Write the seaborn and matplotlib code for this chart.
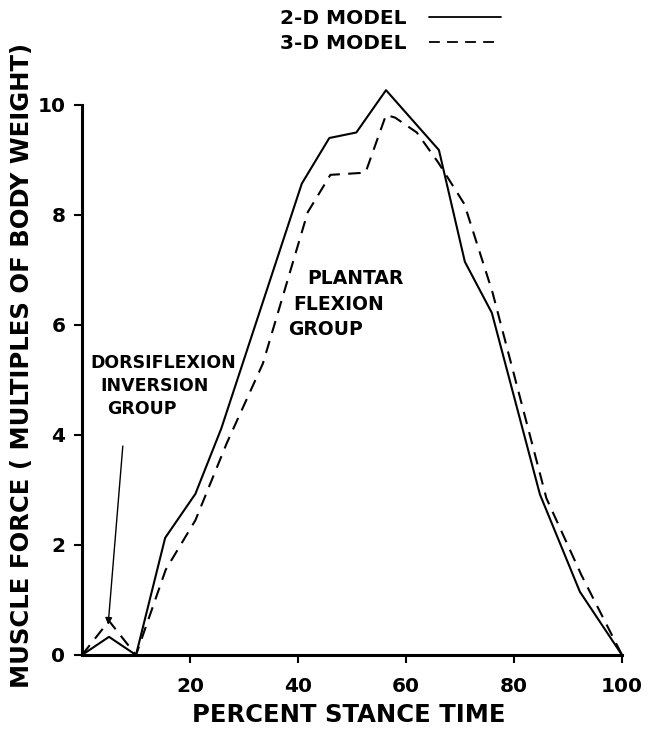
import numpy as np
import pandas as pd
import matplotlib
matplotlib.use("Agg")
import matplotlib.pyplot as plt
import seaborn as sns
from matplotlib.lines import Line2D

# ---- data ----
x_2d = [0, 5, 10, 15.4, 21, 25.8, 40.7, 45.8, 50.8, 56.3, 66.1, 70.9, 75.9, 84.8, 92.2, 100]
y_2d = [0, 0.33, 0, 2.13, 2.93, 4.12, 8.57, 9.4, 9.5, 10.27, 9.18, 7.15, 6.22, 2.92, 1.15, 0]

x_3d = [0, 5, 10, 15.5, 21, 26.8, 33.5, 41.8, 46, 52.5, 56.3, 58, 62, 66, 70.8, 76, 86, 92.5, 100]
y_3d = [0, 0.62, 0, 1.55, 2.45, 3.85, 5.3, 8.05, 8.73, 8.77, 9.82, 9.77, 9.5, 8.95, 8.2, 6.6, 2.85, 1.45, 0]

series_names = ["2-D MODEL", "3-D MODEL"]
x_ticks = [20, 40, 60, 80, 100]
y_ticks = [0, 2, 4, 6, 8, 10]
dorsi_lines = ["DORSIFLEXION", "INVERSION", "GROUP"]
plantar_lines = ["PLANTAR", "FLEXION", "GROUP"]

df = pd.concat([
    pd.DataFrame({"x": x_2d, "y": y_2d, "model": series_names[0]}),
    pd.DataFrame({"x": x_3d, "y": y_3d, "model": series_names[1]}),
], ignore_index=True)

sns.set_style("ticks")
plt.rcParams["font.family"] = ["DejaVu Sans"]
plt.rcParams["font.weight"] = "bold"
plt.rcParams["text.color"] = "black"
plt.rcParams["axes.labelcolor"] = "black"
plt.rcParams["xtick.color"] = "black"
plt.rcParams["ytick.color"] = "black"

fig = plt.figure(figsize=(6.59, 7.30), dpi=100)
ax = fig.add_axes([82 / 659, 1 - 655 / 730, 540 / 659, 550 / 730])

sns.lineplot(data=df, x="x", y="y", style="model", estimator=None, sort=False,
             color="black", linewidth=1.5,
             dashes={series_names[0]: "", series_names[1]: (6, 4)},
             ax=ax, legend=False)
for ln in ax.lines:
    ln.set_clip_on(False)

ax.set_xlim(0, 100)
ax.set_ylim(0, 10)
ax.set_xticks(x_ticks)
ax.set_yticks(y_ticks)
ax.tick_params(axis="both", direction="out", length=6, width=1.5, labelsize=14.5,
               colors="black")
ax.tick_params(axis="x", pad=10)
ax.tick_params(axis="y", pad=6)
for lab in ax.get_xticklabels() + ax.get_yticklabels():
    lab.set_fontweight("bold")
for s in ["top", "right"]:
    ax.spines[s].set_visible(False)
for s in ["left", "bottom"]:
    ax.spines[s].set_linewidth(2.2)
    ax.spines[s].set_color("black")
    ax.spines[s].set_zorder(5)

ax.set_xlabel("PERCENT STANCE TIME", fontsize=17.5, fontweight="bold")
ax.set_ylabel("MUSCLE FORCE ( MULTIPLES OF BODY WEIGHT)", fontsize=17.5,
              fontweight="bold")
ax.xaxis.set_label_coords((349 - 82) / 540, -(715 - 655) / 550)
ax.yaxis.set_label_coords(-(82 - 22) / 540, (655 - 365) / 550)
ax.xaxis.label.set_va("center")
ax.yaxis.label.set_va("center")

# annotations (each line placed as in the reference, left-aligned)
dorsi_pos = [(1.5, 5.31), (3.35, 4.89), (4.65, 4.47)]
for txt, (tx, ty) in zip(dorsi_lines, dorsi_pos):
    ax.text(tx, ty, txt, ha="left", va="center", fontsize=12.5, fontweight="bold")
plantar_pos = [(41.7, 6.85), (39.1, 6.37), (38.2, 5.92)]
for txt, (tx, ty) in zip(plantar_lines, plantar_pos):
    ax.text(tx, ty, txt, ha="left", va="center", fontsize=13.5, fontweight="bold")
ax.annotate("", xy=(4.8, 0.5), xytext=(7.6, 3.85),
            arrowprops=dict(arrowstyle="-|>", color="black", lw=1.0,
                            mutation_scale=10))

# legend
handles = [Line2D([], [], color="black", lw=1.3),
           Line2D([], [], color="black", lw=1.3, dashes=(6, 4))]
fig.legend(handles, series_names, loc="upper left",
           bbox_to_anchor=(262 / 659, 1 + 9 / 730), frameon=False,
           markerfirst=False, handlelength=3.6, handletextpad=1.1,
           labelspacing=0.3, prop=dict(size=14.5, weight="bold"))

fig.savefig("out.png", dpi=100)
